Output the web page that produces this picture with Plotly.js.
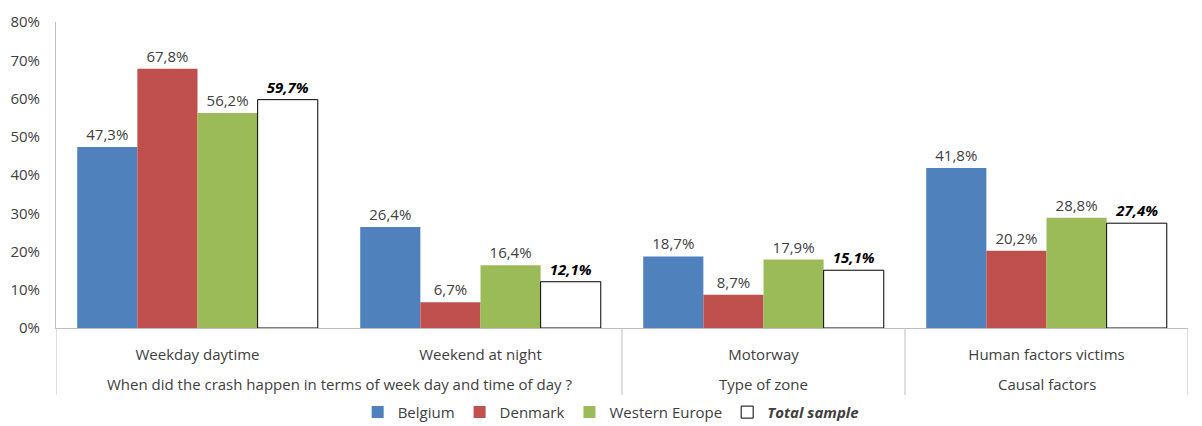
<!DOCTYPE html>
<html>
<head>
<meta charset="utf-8">
<script src="https://cdn.plot.ly/plotly-3.0.1.min.js"></script>
<style>html,body{margin:0;padding:0;background:#fff;}#chart{width:1202px;height:426px;}</style>
</head>
<body>
<div id="chart"></div>
<script>
const groups = [
  "When did the crash happen in terms of week day and time of day ?",
  "When did the crash happen in terms of week day and time of day ?",
  "Type of zone",
  "Causal factors"
];
const categories = ["Weekday daytime", "Weekend at night", "Motorway", "Human factors victims"];
const belgium = [0.473, 0.264, 0.187, 0.418];
const denmark = [0.678, 0.067, 0.087, 0.202];
const westernEurope = [0.562, 0.164, 0.179, 0.288];
const totalSample = [0.597, 0.121, 0.151, 0.274];
const yTicks = [0, 0.1, 0.2, 0.3, 0.4, 0.5, 0.6, 0.7, 0.8];

const font = "'Open Sans', sans-serif";
const fs = 15;
const txtColor = "#404040";

function bar(name, vals, color, line, tmpl, tcolor) {
  return {
    type: "bar", name: name, x: categories, y: vals,
    marker: {color: color, line: line},
    texttemplate: tmpl, textposition: "outside", cliponaxis: false,
    textfont: {family: font, size: fs, color: tcolor},
    hoverinfo: "none"
  };
}
const data = [
  bar("Belgium", belgium, "#4F81BD", {width: 0}, "%{y:.1%}", txtColor),
  bar("Denmark", denmark, "#C0504D", {width: 0}, "%{y:.1%}", txtColor),
  bar("Western Europe", westernEurope, "#9BBB59", {width: 0}, "%{y:.1%}", txtColor),
  bar("<b><i>Total sample</i></b>", totalSample, "#FFFFFF", {width: 1, color: "#000000"}, "<b><i>%{y:.1%}</i></b>", "#000000")
];

// group dividers and group labels derived from the groups array
const shapes = [];
const annotations = [];
const dividerBottom = -0.219;
const n = categories.length;
let start = 0;
for (let i = 1; i <= n; i++) {
  if (i === n || groups[i] !== groups[i - 1]) {
    annotations.push({
      text: groups[start], x: (start + i - 1) / 2, xref: "x",
      y: -0.183, yref: "paper", yanchor: "middle", showarrow: false,
      font: {family: font, size: fs, color: txtColor}
    });
    start = i;
  }
}
for (let i = 0; i <= n; i++) {
  if (i === 0 || i === n || groups[i] !== groups[i - 1]) {
    shapes.push({type: "line", xref: "x", yref: "paper", x0: i - 0.5, x1: i - 0.5,
      y0: 0, y1: dividerBottom, line: {color: "#BFBFBF", width: 1}});
  }
}

const layout = {
  width: 1202, height: 426,
  margin: {l: 56, r: 14, t: 22, b: 98},
  paper_bgcolor: "#fff", plot_bgcolor: "#fff",
  separators: ",.",
  barmode: "group", bargap: 0.15, bargroupgap: 0,
  font: {family: font, size: fs, color: txtColor},
  showlegend: true,
  legend: {orientation: "h", x: 0.49, xanchor: "center", yref: "container", y: 0.032, yanchor: "middle",
    font: {family: font, size: fs, color: txtColor}, traceorder: "normal", itemwidth: 30},
  shapes: shapes,
  annotations: annotations,
  xaxis: {type: "category", range: [-0.5, n - 0.5], showline: true, linecolor: "#BFBFBF", linewidth: 1,
    showgrid: false, ticks: "", ticklabelstandoff: 13, automargin: false,
    tickfont: {family: font, size: fs, color: txtColor}, zeroline: false},
  yaxis: {range: [0, 0.8], tickvals: yTicks, tickformat: ".0%", showgrid: false,
    showline: true, linecolor: "#BFBFBF", linewidth: 1, zeroline: false, ticks: "",
    ticklabelstandoff: 12, automargin: false,
    tickfont: {family: font, size: fs, color: txtColor}}
};
Plotly.newPlot("chart", data, layout, {displayModeBar: false, staticPlot: true});
</script>
</body>
</html>
